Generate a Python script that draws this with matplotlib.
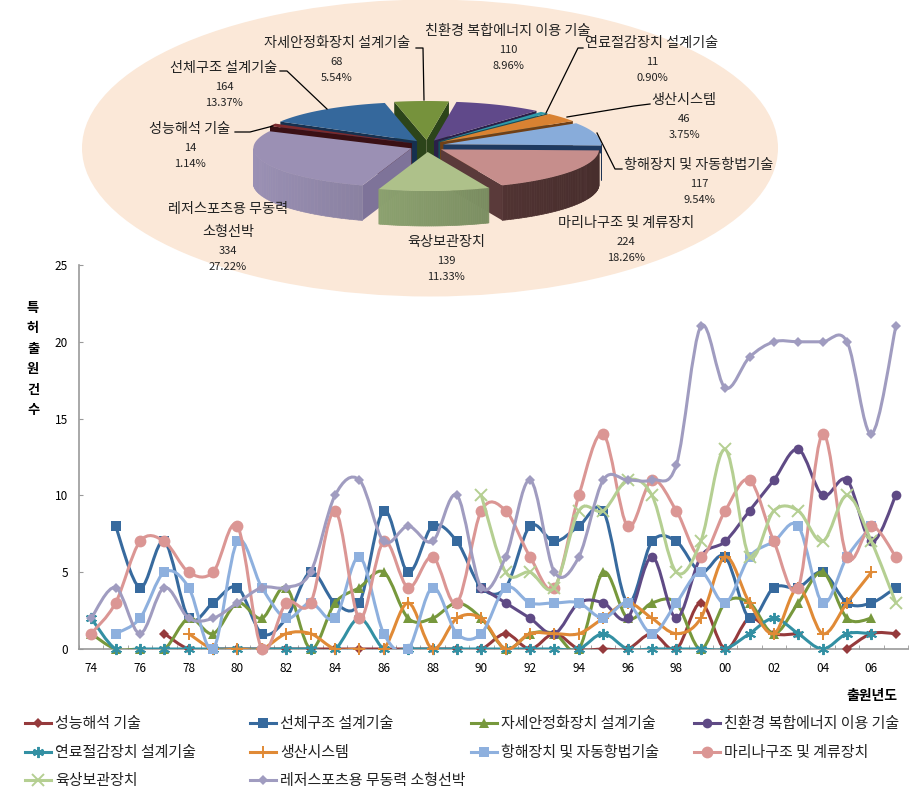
import numpy as np
import matplotlib
matplotlib.use("Agg")
import matplotlib.pyplot as plt
from matplotlib.collections import PolyCollection
from matplotlib.colors import to_rgb
from matplotlib.lines import Line2D
from matplotlib.patches import Ellipse, PathPatch, Polygon
from matplotlib.path import Path

plt.rcParams['font.family'] = ['Noto Sans CJK KR', 'DejaVu Sans']

n = float('nan')

# pie values, clockwise from the dark red slice
pie_names = ["성능해석 기술", "선체구조 설계기술", "자세안정화장치 설계기술", "친환경 복합에너지 이용 기술",
             "연료절감장치 설계기술", "생산시스템", "항해장치 및 자동항법기술", "마리나구조 및 계류장치",
             "육상보관장치", "레저스포츠용 무동력\n소형선박"]
pie_counts = [14, 164, 68, 110, 11, 46, 117, 224, 139, 334]
pie_pcts = ["1.14%", "13.37%", "5.54%", "8.96%", "0.90%", "3.75%", "9.54%", "18.26%", "11.33%", "27.22%"]

year_labels = ["74", "", "76", "", "78", "", "80", "", "82", "", "84", "", "86", "", "88", "", "90", "",
               "92", "", "94", "", "96", "", "98", "", "00", "", "02", "", "04", "", "06", ""]

performance = [n, n, n, 1, 0, 0, 0, 0, 0, 0, 0, 0, 0, 0, 0, 0, 0, 1, 0, 1, 0, 0, 0, 1, 0, 3, 0, 2, 1, 1, n, 0, 1, 1]
hull = [n, 8, 4, 7, 2, 3, 4, 1, 2, 5, 3, 3, 9, 5, 8, 7, 4, 4, 8, 7, 8, 9, 3, 7, 7, 5, 6, 2, 4, 4, 5, 3, 3, 4]
stability = [1, 0, 0, 0, 2, 1, 3, 2, 4, 0, 3, 4, 5, 2, 2, 3, 2, 0, 1, 1, 0, 5, 2, 3, 3, 0, 3, 3, 1, 3, 5, 2, 2, n]
eco = [n, n, n, n, n, n, n, n, n, n, n, n, n, n, n, n, 4, 3, 2, 1, 3, 3, 2, 6, 2, 6, 7, 9, 11, 13, 10, 11, 7, 10]
fuel = [2, 0, 0, 0, 0, 0, 0, 0, 0, 0, 0, 2, 0, 0, 0, 0, 0, 0, 0, 0, 0, 1, 0, 0, 0, 0, 0, 1, 2, 1, 0, 1, 1, n]
production = [n, n, n, n, 1, 0, 0, 0, 1, 1, 0, 0, 0, 3, 0, 2, 2, 0, 1, 1, 1, 2, 3, 2, 1, 2, 6, 3, 1, 4, 1, 3, 5, n]
navigation = [n, 1, 2, 5, 4, 0, 7, 4, 2, 3, 2, 6, 1, 0, 4, 1, 1, 4, 3, 3, 3, 2, 3, 1, 3, 5, 3, 6, 7, 8, 3, 6, 8, n]
marina = [1, 3, 7, 7, 5, 5, 8, 0, 3, 3, 9, 2, 7, 4, 6, 3, 9, 9, 6, 4, 10, 14, 8, 11, 9, 6, 9, 11, 7, 4, 14, 6, 8, 6]
storage = [n, n, n, n, n, n, n, n, n, n, n, n, n, n, n, n, 10, 5, 5, 4, 9, 9, 11, 10, 5, 7, 13, 6, 9, 9, 7, 10, 7, 3]
leisure = [2, 4, 1, 4, 2, 2, 3, 4, 4, 5, 10, 11, 7, 8, 7, 10, 4, 6, 11, 5, 6, 11, 11, 11, 12, 21, 17, 19, 20, 20, 20, 20, 14, 21]

series = [performance, hull, stability, eco, fuel, production, navigation, marina, storage, leisure]
legend_names = ["성능해석 기술", "선체구조 설계기술", "자세안정화장치 설계기술", "친환경 복합에너지 이용 기술",
                "연료절감장치 설계기술", "생산시스템", "항해장치 및 자동항법기술", "마리나구조 및 계류장치",
                "육상보관장치", "레저스포츠용 무동력 소형선박"]
line_colors = ["#953A3C", "#376A9E", "#77983C", "#5F4A85", "#3390A3", "#E08A36", "#8EB0DE", "#DB9694", "#B5CF92", "#A09CC0"]
asterisk = (6, 2, 0)
markers = ["D", "s", "^", "o", asterisk, "+", "s", "o", "x", "D"]
marker_sizes = [5.5, 7, 7.5, 7, 8, 8, 7, 8.5, 8, 5.5]

fig = plt.figure(figsize=(9.14, 7.93), dpi=100)

# overlay in pixel coordinates for the pie, its labels and the legend
over = fig.add_axes([0, 0, 1, 1])
over.set_xlim(0, 914)
over.set_ylim(793, 0)
over.axis("off")

ax = fig.add_axes([79 / 914, 1 - 649 / 793, 829 / 914, 384 / 793])
ax.patch.set_alpha(0)


def smooth_path(values):
    # spline through the read values, like the smoothed lines of a spreadsheet chart
    verts, codes = [], []
    y = np.array(values, dtype=float)
    good = np.where(~np.isnan(y))[0]
    runs = np.split(good, np.where(np.diff(good) > 1)[0] + 1)
    for run in runs:
        verts.append((run[0], y[run[0]]))
        codes.append(Path.MOVETO)
        for a, b in zip(run[:-1], run[1:]):
            before = max(a - 1, run[0])
            after = min(b + 1, run[-1])
            verts.append((a + (b - before) / 6, y[a] + (y[b] - y[before]) / 6))
            verts.append((b - (after - a) / 6, y[b] - (y[after] - y[a]) / 6))
            verts.append((b, y[b]))
            codes += [Path.CURVE4] * 3
    return Path(verts, codes)


x = np.arange(len(year_labels))
for i, values in enumerate(series):
    ax.add_patch(PathPatch(smooth_path(values), fc="none", ec=line_colors[i], lw=2.2, zorder=3 + i * 0.1))
    open_marker = markers[i] in ("+", "x", asterisk)
    ax.plot(x, values, ls="none", marker=markers[i], ms=marker_sizes[i], color=line_colors[i],
            mew=1.4 if open_marker else 0, clip_on=False, zorder=3.05 + i * 0.1)

ax.set_xlim(-0.5, 33.5)
ax.set_ylim(0, 25)
ax.set_xticks(x, year_labels, fontsize=8.5)
ax.set_xticks(np.arange(-0.5, 34), minor=True)
ax.set_yticks(range(0, 26, 5))
ax.tick_params(axis="x", which="major", length=0, pad=9)
ax.tick_params(axis="x", which="minor", length=3, direction="in", color="#999999")
ax.tick_params(axis="y", length=3, direction="in", color="#999999", labelsize=8.5, pad=8)
for side in ["top", "right"]:
    ax.spines[side].set_visible(False)
for side in ["left", "bottom"]:
    ax.spines[side].set_color("#999999")
    ax.spines[side].set_linewidth(1.2)

# peach backdrop
over.add_patch(Ellipse((430, 148), 696, 297, fc="#FBE8D8", ec="none"))

# 3D exploded pie, angles measured clockwise from north
cx, cy = 427, 146
rx, ry = 158, 39
depth = 35
start_angle = 296
ex, ey = 17, 6
top_colors = ["#7C2A2E", "#35689C", "#76923C", "#60498A", "#2E9AA8", "#D98232", "#88ACDA", "#C68E8C", "#AEC18A", "#9B90B4"]
rim_colors = ["#5A1C20", "#1F3E66", "#3A5420", "#3A2A58", "#1C6470", "#8F5420", "#2C4A78", "#664140", "#9CB47C", "#9A90B4"]
face_colors = ["#3A1015", "#16304F", "#2C441A", "#2A2048", "#144E58", "#704016", "#1F3A60", "#5A3A3A", "#7C9460", "#7E7399"]
face_depths = [depth, depth, depth, depth, depth, depth, 8, depth, depth, depth]

fractions = np.array(pie_counts) / sum(pie_counts)
edges = np.radians(start_angle + 360 * np.concatenate([[0], np.cumsum(fractions)]))
mids = (edges[:-1] + edges[1:]) / 2


def darker(color, k):
    return tuple(c * k for c in to_rgb(color))


for i in np.argsort(-np.cos(mids)):
    a, b, mid = edges[i], edges[i + 1], mids[i]
    tip = np.array([cx + ex * np.sin(mid), cy - ey * np.cos(mid)])
    th = np.linspace(a, b, 60)
    rim = np.column_stack([tip[0] + rx * np.sin(th), tip[1] - ry * np.cos(th)])
    drop = np.array([0, depth])
    face_drop = np.array([0, face_depths[i]])

    # cut faces on the side turned towards the viewer
    faces = []
    if np.sin(a) < 0:
        faces.append([tip, rim[0], rim[0] + face_drop, tip + face_drop])
    if np.sin(b) > 0:
        faces.append([tip, rim[-1], rim[-1] + face_drop, tip + face_drop])
    for f in faces:
        over.add_patch(Polygon(f, fc=face_colors[i], ec="none"))

    # outer wall split in strips for the shading
    strips, shades = [], []
    for j in range(len(th) - 1):
        if np.cos((th[j] + th[j + 1]) / 2) < 0:
            strips.append([rim[j], rim[j + 1], rim[j + 1] + drop, rim[j] + drop])
            shades.append(darker(rim_colors[i], 1 - 0.3 * (np.sin(th[j]) + 1) / 2))
    if strips:
        over.add_collection(PolyCollection(strips, facecolors=shades, edgecolors=shades, linewidths=0.5))

    over.add_patch(Polygon(np.vstack([tip, rim]), fc=top_colors[i], ec="none"))

# pie labels, same order as the values
label_xy = [(190, 129), (224, 68), (337, 43), (508, 31), (652, 43),
            (684, 100), (699, 165), (626, 223), (446, 242), (228, 209)]
for i, (lx, ly) in enumerate(label_xy):
    name_lines = pie_names[i].split("\n")
    for k, part in enumerate(name_lines):
        over.text(lx, ly + k * 23, part, ha="center", va="center", fontsize=10.2, color="#222222")
    base = ly + (len(name_lines) - 1) * 23
    over.text(lx, base + 19, str(pie_counts[i]), ha="center", va="center", fontsize=8, color="#222222")
    over.text(lx, base + 35, pie_pcts[i], ha="center", va="center", fontsize=8, color="#222222")

leaders = [[(416, 48), (423, 48), (424, 100)],
           [(583, 48), (578, 48), (546, 113)],
           [(650, 104), (634, 106), (567, 117)],
           [(622, 169), (615, 169), (597, 133)],
           [(280, 71), (287, 71), (327, 109)],
           [(235, 132), (250, 132), (273, 126)]]
for pts in leaders:
    px, py = zip(*pts)
    over.plot(px, py, color="black", lw=0.9)

# axis titles
for k, ch in enumerate("특허출원건수"):
    over.text(33, 308 + k * 20.4, ch, ha="center", va="center", fontsize=9.5, fontweight="bold")
over.text(872, 696, "출원년도", ha="center", va="center", fontsize=10, fontweight="bold")

# legend, drawn by hand to keep the column positions of the original
col_x = [25, 250, 471, 694]
row_y = [723, 752, 780]
for i, name in enumerate(legend_names):
    lx = col_x[i % 4]
    ly = row_y[i // 4]
    over.add_line(Line2D([lx, lx + 26], [ly, ly], color=line_colors[i], lw=2.2))
    open_marker = markers[i] in ("+", "x", asterisk)
    over.plot([lx + 13], [ly], marker=markers[i], ms=marker_sizes[i], color=line_colors[i],
              mew=1.4 if open_marker else 0)
    over.text(lx + 30, ly + 1, name, ha="left", va="center", fontsize=10.8, color="#222222")

over.set_xlim(0, 914)
over.set_ylim(793, 0)

fig.savefig("out.png", dpi=100)
